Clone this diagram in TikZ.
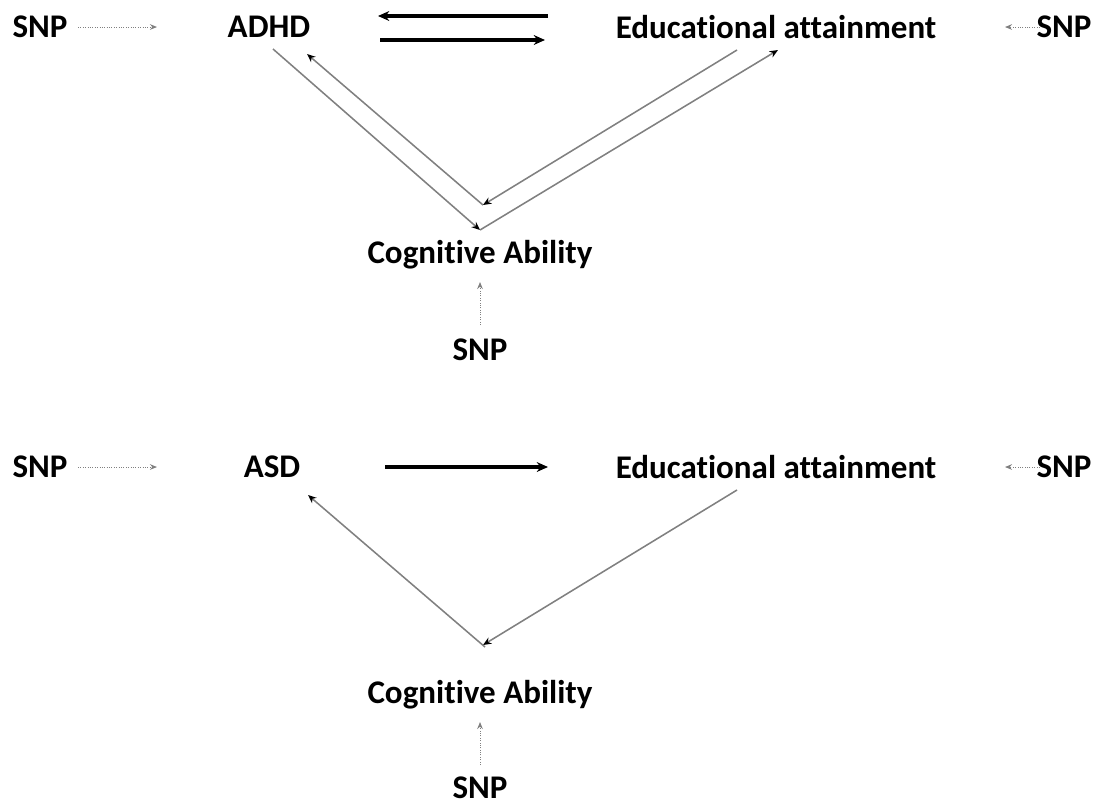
\documentclass[tikz,border=0pt]{standalone}
\usepackage{fontspec}
\setmainfont{Carlito}[Ligatures={NoCommon}]
\usetikzlibrary{arrows.meta}
\begin{document}
\begin{tikzpicture}[x=0.025cm,y=-0.025cm,
  lbl/.style={font=\fontsize{23.5}{27}\selectfont\bfseries, inner sep=0pt},
  snparr/.style={-{Stealth[length=5pt,width=4pt]},densely dotted,gray,line width=0.7pt},
  causal/.style={-{Stealth[length=8pt,width=7pt]},black,line width=2.2pt},
  thinarr/.style={-{Stealth[black,length=6pt,width=5pt]},gray,line width=1.1pt}]
\useasboundingbox (0,0) rectangle (1098,805);
% top panel
\node[lbl] (snp1) at (40,27) {SNP};
\node[lbl] (adhd) at (269,27) {ADHD};
\node[lbl] (edu1) at (776,27) {Educational attainment};
\node[lbl] (snp2) at (1064,27) {SNP};
\node[lbl] (cog1) at (480,255) {Cognitive Ability};
\node[lbl] (snp3) at (480,350) {SNP};
%
\draw[snparr] ([shift={(38,0)}]snp1.center) -- ([shift={(-112,0)}]adhd.center);
\draw[snparr] ([shift={(-24,0)}]snp2.center) -- ([shift={(229,0)}]edu1.center);
\draw[snparr] ([shift={(0,-25)}]snp3.center) -- ([shift={(0,27)}]cog1.center);
%
\draw[causal] ([shift={(-228,-11)}]edu1.center) -- ([shift={(109,-11)}]adhd.center);
\draw[causal] ([shift={(111,13)}]adhd.center) -- ([shift={(-231,13)}]edu1.center);
%
\draw[thinarr] ([shift={(4,22)}]adhd.center) -- ([shift={(0,-25)}]cog1.center);
\draw[thinarr] ([shift={(3,-50)}]cog1.center) -- ([shift={(38,27)}]adhd.center);
\draw[thinarr] ([shift={(-39,23)}]edu1.center) -- ([shift={(3,-50)}]cog1.center);
\draw[thinarr] ([shift={(0,-25)}]cog1.center) -- ([shift={(2,23)}]edu1.center);
% bottom panel
\node[lbl] (snp4) at (40,467) {SNP};
\node[lbl] (asd) at (272,467) {ASD};
\node[lbl] (edu2) at (776,467) {Educational attainment};
\node[lbl] (snp5) at (1064,467) {SNP};
\node[lbl] (cog2) at (480,695) {Cognitive Ability};
\node[lbl] (snp6) at (480,788) {SNP};
%
\draw[snparr] ([shift={(38,0)}]snp4.center) -- ([shift={(-115,0)}]asd.center);
\draw[snparr] ([shift={(-24,0)}]snp5.center) -- ([shift={(229,0)}]edu2.center);
\draw[snparr] ([shift={(0,-23)}]snp6.center) -- ([shift={(0,27)}]cog2.center);
%
\draw[causal] ([shift={(113,0)}]asd.center) -- ([shift={(-228,0)}]edu2.center);
%
\draw[thinarr] ([shift={(-39,23)}]edu2.center) -- ([shift={(3,-50)}]cog2.center);
\draw[thinarr] ([shift={(5,-48)}]cog2.center) -- ([shift={(36,28)}]asd.center);
\end{tikzpicture}
\end{document}
